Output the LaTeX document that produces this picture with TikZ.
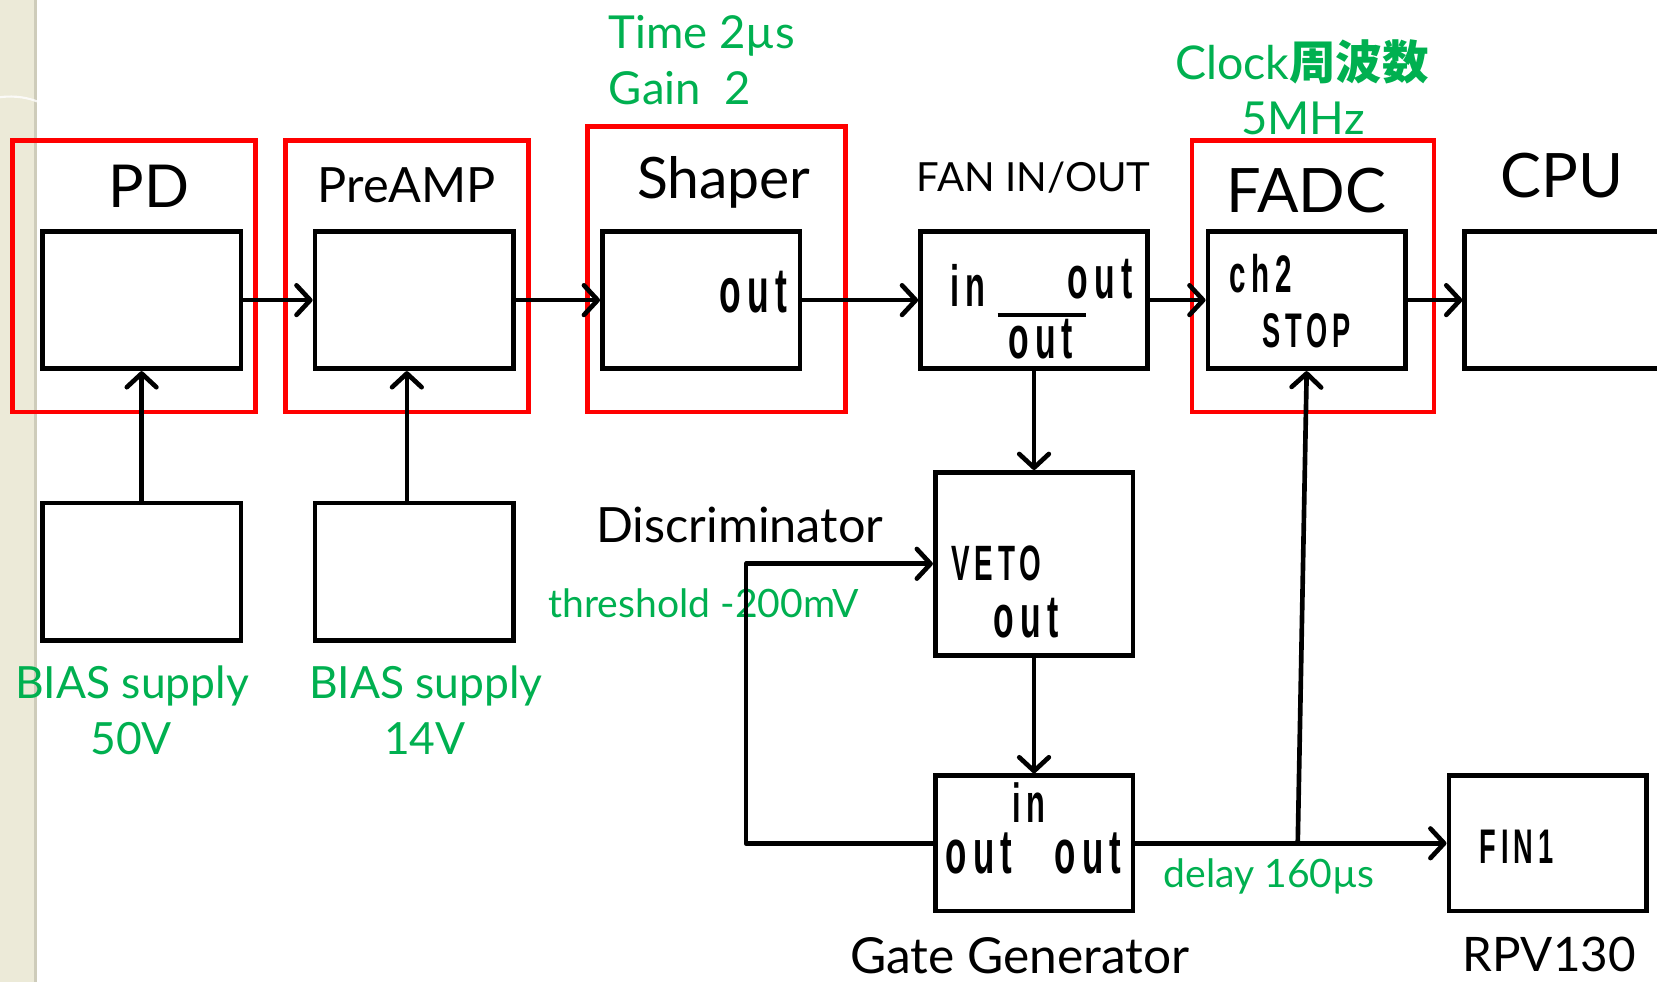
\documentclass[tikz,border=0pt]{standalone}
\usepackage{fontspec}
\setmainfont{Lato}
\newfontfamily\cnd[FakeStretch=0.56,LetterSpace=10,UprightFont={* Bold}]{Liberation Sans}
\newfontfamily\cjk{Noto Sans CJK JP}
\usetikzlibrary{arrows.meta}
\definecolor{grn}{RGB}{0,176,80}
\definecolor{rd}{RGB}{255,0,0}
\definecolor{beige}{RGB}{236,234,216}
\definecolor{beigedk}{RGB}{206,204,186}
\begin{document}
\begin{tikzpicture}[x=1pt,y=-1pt,
  blk/.style={draw=black, line width=4.4pt, inner sep=0pt, minimum width=188pt, minimum height=130pt},
  frm/.style={draw=rd, line width=4.4pt, inner sep=0pt},
  ttl/.style={inner sep=0pt, anchor=base, font=\fontsize{#1}{#1}\selectfont},
  grt/.style={text=grn, inner sep=0pt, anchor=base, font=\fontsize{#1}{#1}\selectfont},
  cn/.style={inner sep=0pt, anchor=base, font=\cnd\fontsize{#1}{#1}\selectfont},
  arr/.style={line width=4.4pt, -{Straight Barb[length=13pt,width=28pt,round]}},
  ln/.style={line width=4.4pt}]
\useasboundingbox (0,0) rectangle (1568,929);
\fill[beige] (0,0) rectangle (35,929);
\fill[beigedk] (32,0) rectangle (35,929);
\draw[white, line width=2pt, opacity=0.8] (0,92) .. controls (15,90) and (28,93) .. (35,96);

% red frames
\node[frm, minimum width=230pt, minimum height=257pt] (pdfrm) at (127,261.5) {};
\node[frm, minimum width=230pt, minimum height=257pt] (prefrm) at (385,261.5) {};
\node[frm, minimum width=244pt, minimum height=270pt] (shpfrm) at (678,255) {};
\node[frm, minimum width=229pt, minimum height=257pt] (fadcfrm) at (1242.5,261.5) {};

% boxes
\node[blk] (pd) at (134,284) {};
\node[blk] (pre) at (392,284) {};
\node[blk, minimum width=187pt] (shp) at (663.5,284) {};
\node[blk, minimum width=215pt] (fan) at (978.5,284) {};
\node[blk, minimum width=187pt] (fadc) at (1236.5,284) {};
\node[blk, minimum width=254pt] (cpu) at (1513,284) {};
\node[blk] (bias1) at (134,541) {};
\node[blk] (bias2) at (392,541) {};
\node[blk, minimum width=187pt, minimum height=173pt] (disc) at (978.5,533.5) {};
\node[blk, minimum width=187pt, minimum height=128pt] (gate) at (978.5,798) {};
\node[blk, minimum width=187pt, minimum height=128pt] (fin) at (1464.5,798) {};

% titles
\node[ttl=56] (tpd) at (141,196) {PD};
\node[ttl=46] (tpre) at (385,192) {PreAMP};
\node[ttl=54] (tshp) at (685,188) {Shaper};
\node[ttl=38] (tfan) at (978,181) {FAN IN/OUT};
\node[ttl=58] (tfadc) at (1236,201) {FADC};
\node[ttl=58] (tcpu) at (1478,187) {CPU};
\node[ttl=46] (tdisc) at (700,513) {Discriminator};
\node[ttl=47] (tgate) at (965,921) {Gate Generator};
\node[ttl=45] (trpv) at (1466,919) {RPV130};

% green notes
\node[text=grn, inner sep=0pt, anchor=base west, font=\fontsize{43}{43}\selectfont] (gtime) at (576,46) {Time 2µs};
\node[text=grn, inner sep=0pt, anchor=base west, font=\fontsize{43}{43}\selectfont] (ggain) at (576,99) {Gain\ \ 2};
\node[grt=44] (gclk) at (1232,75) {Clock{\cjk\bfseries 周波数}};
\node[grt=43] (gmhz) at (1233,127) {5MHz};
\node[grt=42] (gb1) at (125,661) {BIAS supply};
\node[grt=42] (gv1) at (124,714) {50V};
\node[grt=42] (gb2) at (403,661) {BIAS supply};
\node[grt=42] (gv2) at (402,714) {14V};
\node[grt=37] (gthr) at (666,584) {threshold -200mV};
\node[grt=37] (gdel) at (1201,840) {delay 160µs};

% port labels
\node[cn=60] (shpout) at (713,296) {out};
\node[cn=55] (fanin) at (916,290) {in};
\node[cn=57] (fanout) at (1041,282) {out};
\node[cn=57] (fanoutb) at (985,339) {out};
\draw[line width=3pt] (944,298) -- (1028,298);
\node[cn=50] (ch2) at (1193,277) {ch2};
\node[cn=46] (stop) at (1236,329) {STOP};
\node[cn=47] (veto) at (943,549) {VETO};
\node[cn=57] (vetoout) at (971,603) {out};
\node[cn=52] (gatein) at (974,778) {in};
\node[cn=59] (gateout) at (978,827) {out\ \ \,out};
\node[cn=46] (fin1) at (1435,817) {FIN1};

% connectors
\draw[arr] (pd.east) -- (pre.west);
\draw[arr] (pre.east) -- (shp.west);
\draw[arr] (shp.east) -- (fan.west);
\draw[arr] (fan.east) -- (fadc.west);
\draw[arr] (fadc.east) -- (cpu.west);
\draw[arr] (bias1.north) -- (pd.south);
\draw[arr] ([xshift=-7pt]bias2.north) -- ([xshift=-7pt]pre.south);
\draw[arr] (fan.south) -- (disc.north);
\draw[arr] (disc.south) -- (gate.north);
\coordinate (lp) at (706,798);
\draw[arr, line join=round] (gate.west) -- (lp) |- (disc.west);
\draw[arr] (gate.east) -- (fin.west);
\coordinate (tap) at (1228,800);
\draw[arr] (tap) -- (fadc.south);
\end{tikzpicture}
\end{document}
